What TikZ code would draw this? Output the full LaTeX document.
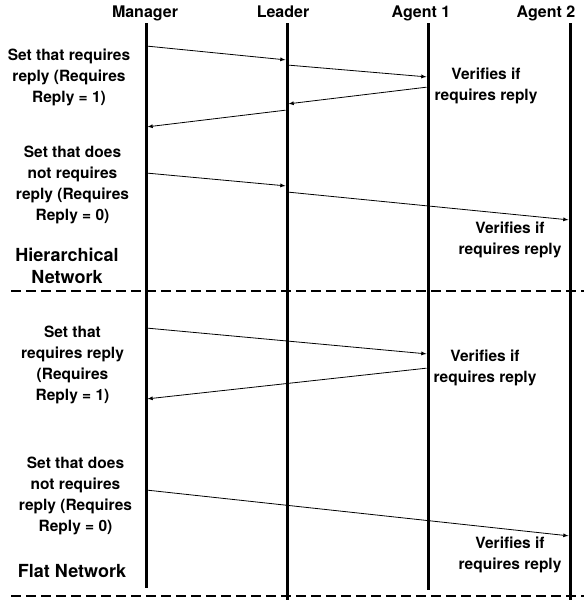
\documentclass[tikz,border=0pt]{standalone}
\usepackage{fontspec}
\setmainfont{TeX Gyre Heros}
\usetikzlibrary{arrows}
\tikzstyle{actor}		=[font=\fontsize{16}{19}\selectfont\bfseries, inner sep=0pt]
\tikzstyle{lifeline}	=[line width=3pt]
\tikzstyle{msg}			=[->, >=latex, line width=0.8pt, shorten >=1.5pt, shorten <=1.5pt]
\tikzstyle{note}		=[font=\fontsize{15.5}{21}\selectfont\bfseries, align=center, inner sep=0pt]
\tikzstyle{section}		=[font=\fontsize{18}{22}\selectfont\bfseries, align=center, inner sep=0pt]
\tikzstyle{separator}	=[line width=1.2pt, dash pattern=on 10pt off 5pt]
\begin{document}
\begin{tikzpicture}[x=1pt, y=-1pt]

	\useasboundingbox (0,0) rectangle (584,600);

	% actors and their lifelines
	\node (Manager)		[actor]		at (145,13)		{Manager};
	\node (Leader)		[actor]		at (283,12)		{Leader};
	\node (Agent1)		[actor]		at (421,13)		{Agent 1};
	\node (Agent2)		[actor]		at (546,13)		{Agent 2};

	\coordinate (ManagerTop)	at (146,23);	\coordinate (ManagerEnd)	at (146,588);
	\coordinate (LeaderTop)		at (287,23);	\coordinate (LeaderEnd)		at (287,600);
	\coordinate (Agent1Top)		at (428,23);	\coordinate (Agent1End)		at (428,590);
	\coordinate (Agent2Top)		at (570,23);	\coordinate (Agent2End)		at (570,600);

	\draw[lifeline] (ManagerTop) -- (ManagerEnd);
	\draw[lifeline] (LeaderTop)  -- (LeaderEnd);
	\draw[lifeline] (Agent1Top)  -- (Agent1End);
	\draw[lifeline] (Agent2Top)  -- (Agent2End);

	% hierarchical network
	\coordinate (h1s) at (146,46);	\coordinate (h1e) at (287,60);
	\coordinate (h2s) at (287,65);	\coordinate (h2e) at (428,77);
	\coordinate (h3s) at (428,87);	\coordinate (h3e) at (287,104);
	\coordinate (h4s) at (287,110);	\coordinate (h4e) at (146,127);
	\coordinate (h5s) at (146,173);	\coordinate (h5e) at (287,186);
	\coordinate (h6s) at (287,192);	\coordinate (h6e) at (570,220);

	\draw[msg] (h1s) -- (h1e);
	\draw[msg] (h2s) -- (h2e);
	\draw[msg] (h3s) -- (h3e);
	\draw[msg] (h4s) -- (h4e);
	\draw[msg] (h5s) -- (h5e);
	\draw[msg] (h6s) -- (h6e);

	\node (HierReq)		[note]		at (69,77)		{Set that requires\\reply (Requires\\Reply = 1)};
	\node (HierVerify1)	[note]		at (486,86)		{Verifies if\\requires reply};
	\node (HierNoReq)	[note]		at (72.5,185)	{Set that does\\not requires\\reply (Requires\\Reply = 0)};
	\node (HierVerify2)	[note]		at (510,240)	{Verifies if\\requires reply};
	\node (HierTitle)	[section]	at (67,266)		{Hierarchical\\Network};

	\coordinate (SepTopL) at (11,291);	\coordinate (SepTopR) at (584,291);
	\draw[separator] (SepTopL) -- (SepTopR);

	% flat network
	\coordinate (f1s) at (146,328);	\coordinate (f1e) at (428,354);
	\coordinate (f2s) at (428,368);	\coordinate (f2e) at (146,399);
	\coordinate (f3s) at (146,490);	\coordinate (f3e) at (570,536);

	\draw[msg] (f1s) -- (f1e);
	\draw[msg] (f2s) -- (f2e);
	\draw[msg] (f3s) -- (f3e);

	\node (FlatReq)		[note]		at (72.5,364.5)	{Set that\\requires reply\\(Requires\\Reply = 1)};
	\node (FlatVerify1)	[note]		at (485,368)	{Verifies if\\requires reply};
	\node (FlatNoReq)	[note]		at (75.5,496)	{Set that does\\not requires\\reply (Requires\\Reply = 0)};
	\node (FlatVerify2)	[note]		at (510,555)	{Verifies if\\requires reply};
	\node (FlatTitle)	[section]	at (72,571)		{Flat Network};

	\coordinate (SepBotL) at (11,596);	\coordinate (SepBotR) at (584,596);
	\draw[separator] (SepBotL) -- (SepBotR);

\end{tikzpicture}
\end{document}
